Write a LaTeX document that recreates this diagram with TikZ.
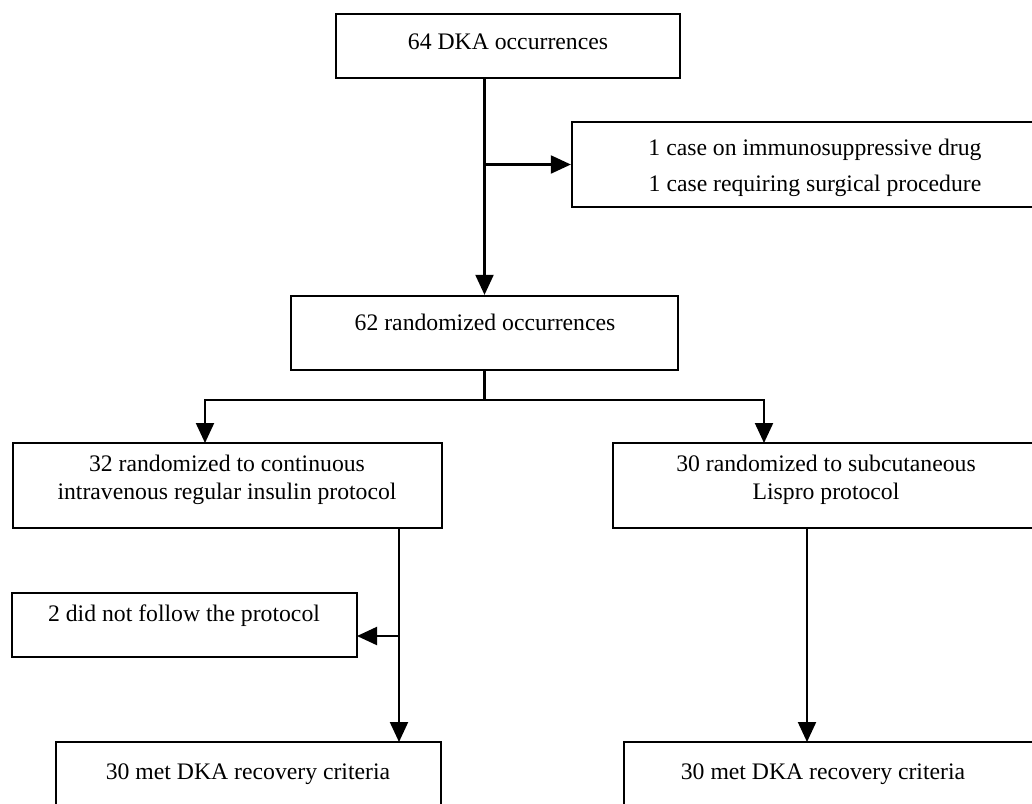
\documentclass[tikz,border=0pt]{standalone}
\usepackage{fontspec}
\setmainfont{Liberation Serif}
\usetikzlibrary{arrows.meta}
\begin{document}
\begin{tikzpicture}[x=1pt,y=-1pt,
  box/.style 2 args={draw, line width=2.3pt, rectangle, inner sep=0pt,
    minimum width=#1, minimum height=#2},
  txt/.style={font=\fontsize{23.7pt}{28pt}\selectfont, inner sep=0pt,
    text height=17pt, text depth=5pt},
  mtxt/.style={font=\fontsize{23.7pt}{28pt}\selectfont, inner sep=0pt, align=center},
  line/.style={line width=2.1pt},
  arr/.style={line width=2.1pt, -{Triangle[length=20pt,width=18pt]}}
]
\useasboundingbox (0,0) rectangle (1032,803);
\clip (0,0) rectangle (1032,803);
\fill[white] (0,0) rectangle (1032,803);

% boxes
\node[box={344pt}{64pt}] (A) at (508,46) {};
\node[box={482pt}{85pt}] (E) at (813,164.5) {};
\node[box={387pt}{74pt}] (B) at (484.5,333) {};
\node[box={429pt}{85pt}] (L) at (227.5,485.5) {};
\node[box={427pt}{85pt}] (R) at (826.5,485.5) {};
\node[box={345pt}{64pt}] (N) at (184.5,625) {};
\node[box={385pt}{98pt}] (BL) at (248.5,791) {};
\node[box={416pt}{98pt}] (BR) at (832,791) {};

% texts
\node[txt] (At) at (508,43) {64 DKA occurrences};
\node[mtxt] (Et) at (815,168) {1 case on immunosuppressive drug\\[8pt]1 case requiring surgical procedure};
\node[txt] (Bt) at (485,324) {62 randomized occurrences};
\node[mtxt] (Lt) at (227,480) {32 randomized to continuous\\intravenous regular insulin protocol};
\node[mtxt] (Rt) at (826,480) {30 randomized to subcutaneous\\Lispro protocol};
\node[txt] (Nt) at (184,615) {2 did not follow the protocol};
\node[txt] (BLt) at (248,773) {30 met DKA recovery criteria};
\node[txt] (BRt) at (823,773) {30 met DKA recovery criteria};

% connector points
\coordinate (fork) at (484.5,400);
\coordinate (Lin) at (205,443);
\coordinate (Rin) at (764,443);
\coordinate (Lout) at (399,528);
\coordinate (BLin) at (399,742);
\coordinate (Nin) at (357,636);
\coordinate (Rout) at (807,528);
\coordinate (BRin) at (807,742);

% connectors
\draw[arr] (A.south -| B.north) -- (B.north);
\draw[arr] (E.west -| B.north) -- (E.west);
\draw[line] (B.south) -- (fork);
\draw[arr] (fork) -| (Lin);
\draw[arr] (fork) -| (Rin);
\draw[arr] (Lout) -- (BLin);
\draw[arr] (Nin -| Lout) -- (Nin);
\draw[arr] (Rout) -- (BRin);
\end{tikzpicture}
\end{document}
